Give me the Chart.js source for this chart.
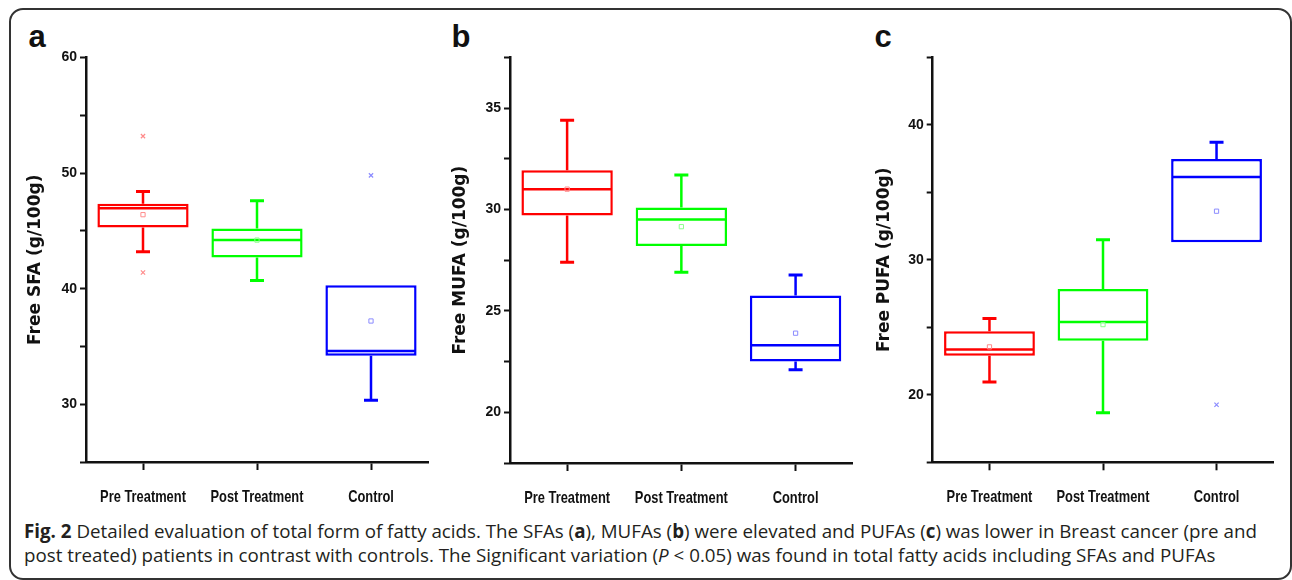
<!DOCTYPE html>
<html>
<head>
<meta charset="utf-8">
<script src="https://cdn.jsdelivr.net/npm/chart.js@4.4.1/dist/chart.umd.min.js"></script>
<style>
  html, body { margin: 0; padding: 0; background: #fff; }
  body { width: 1292px; height: 580px; position: relative; overflow: hidden; }
  .frame { position: absolute; left: 9px; top: 8px; width: 1283px; height: 572px; box-sizing: border-box;
           border: 2px solid #333; border-radius: 14px; }
  canvas { position: absolute; }
  .letter { position: absolute; font-family: "Liberation Sans", Arial, sans-serif; font-weight: bold;
            font-size: 31px; line-height: 31px; color: #111; }
  .caption { position: absolute; left: 24px; top: 519px; font-family: "Open Sans", sans-serif;
             font-size: 15.5px; line-height: 24px; color: #231f20; white-space: nowrap; }
  .caption span.line { display: inline-block; }
</style>
</head>
<body>
<div class="frame"></div>
<div class="letter" style="left:28.5px; top:21.4px;">a</div>
<div class="letter" style="left:451.5px; top:21.4px;">b</div>
<div class="letter" style="left:874.5px; top:21.4px;">c</div>
<canvas id="chartA" width="425" height="475" style="left:10px; top:40px;"></canvas>
<canvas id="chartB" width="420" height="475" style="left:440px; top:40px;"></canvas>
<canvas id="chartC" width="420" height="475" style="left:865px; top:40px;"></canvas>
<div class="caption" id="caption">
  <span class="line" id="cap1"><b>Fig. 2</b> Detailed evaluation of total form of fatty acids. The SFAs (<b>a</b>), MUFAs (<b>b</b>) were elevated and PUFAs (<b>c</b>) was lower in Breast cancer (pre and</span><br>
  <span class="line" id="cap2">post treated) patients in contrast with controls. The Significant variation (<i>P</i> &lt; 0.05) was found in total fatty acids including SFAs and PUFAs</span>
</div>
<script>
// ---------- DATA ----------
const categories = ['Pre Treatment', 'Post Treatment', 'Control'];
const boxColors  = ['#ff0000', '#00ff00', '#0000ff'];
const markColors = ['#ff8c8c', '#8cff8c', '#8c8cff'];

// Panel a: Free SFA
const sfaTitle    = 'Free SFA (g/100g)';
const sfaMin      = [43.2, 40.7, 30.35];
const sfaQ1       = [45.3, 42.7, 34.2];
const sfaMedian   = [46.95, 44.2, 34.6];
const sfaQ3       = [47.35, 45.2, 40.3];
const sfaMax      = [48.4, 47.6, 40.3];
const sfaMean     = [46.4, 44.2, 37.2];
const sfaOutliers = [[53.2, 41.4], [], [49.8]];
const sfaTickLabels = [30, 40, 50, 60];

// Panel b: Free MUFA
const mufaTitle    = 'Free MUFA (g/100g)';
const mufaMin      = [27.4, 26.9, 22.1];
const mufaQ1       = [29.7, 28.2, 22.5];
const mufaMedian   = [31.0, 29.5, 23.3];
const mufaQ3       = [31.93, 30.1, 25.76];
const mufaMax      = [34.4, 31.7, 26.77];
const mufaMean     = [31.0, 29.15, 23.9];
const mufaOutliers = [[], [], []];
const mufaTickLabels = [20, 25, 30, 35];

// Panel c: Free PUFA
const pufaTitle    = 'Free PUFA (g/100g)';
const pufaMin      = [20.94, 18.67, 31.3];
const pufaQ1       = [22.9, 24.0, 31.3];
const pufaMedian   = [23.36, 25.4, 36.13];
const pufaQ3       = [24.7, 27.83, 37.46];
const pufaMax      = [25.65, 31.48, 38.7];
const pufaMean     = [23.55, 25.2, 33.6];
const pufaOutliers = [[], [], [19.26]];
const pufaTickLabels = [20, 30, 40];

// ---------- narrow (condensed) category labels drawn at the x-scale tick positions ----------
const narrowXLabels = {
  id: 'narrowXLabels',
  afterDraw(chart) {
    const sx = chart.scales.x, ctx = chart.ctx;
    ctx.save();
    ctx.fillStyle = '#111';
    ctx.font = 'bold 16.5px "Liberation Sans", Arial, sans-serif';
    ctx.textAlign = 'center';
    ctx.textBaseline = 'middle';
    chart.data.labels.forEach((lab, i) => {
      const x = sx.getPixelForTick(i);
      ctx.save();
      ctx.translate(x, sx.top + 35);
      ctx.scale(0.78, 1);
      ctx.fillText(lab, 0, 0);
      ctx.restore();
    });
    ctx.restore();
  }
};

// ---------- CHART BUILDER ----------
function makeBoxChart(id, d, layout) {
  const boxData = categories.map((c, i) => [d.q1[i], d.q3[i]]);
  const upperWhisker = categories.map((c, i) => [d.q3[i], d.max[i]]);
  const lowerWhisker = categories.map((c, i) => [d.min[i], d.q1[i]]);
  const outlierPts = [];
  const outlierCols = [];
  d.outliers.forEach((arr, i) => arr.forEach(v => { outlierPts.push({ x: categories[i], y: v }); outlierCols.push(markColors[i]); }));

  const whiskerDs = data => ({ type: 'bar', data, grouped: false, order: 3, barThickness: 2.5,
    backgroundColor: boxColors, borderWidth: 0, inflateAmount: 0 });
  const pointDs = (data, style, radius, bw, colors, order) => ({
    type: 'line', data, showLine: false, order,
    pointStyle: style, pointRadius: radius, pointHoverRadius: radius,
    pointBorderWidth: bw, pointHoverBorderWidth: bw,
    pointBorderColor: colors, pointBackgroundColor: 'rgba(0,0,0,0)',
    borderColor: colors
  });
  // whisker caps only where a whisker actually extends beyond the box
  const capRadiusMax = c => (d.max[c.dataIndex] > d.q3[c.dataIndex] ? 7 : 0);
  const capRadiusMin = c => (d.min[c.dataIndex] < d.q1[c.dataIndex] ? 7 : 0);

  new Chart(document.getElementById(id), {
    type: 'bar',
    data: {
      labels: categories,
      datasets: [
        whiskerDs(upperWhisker),
        whiskerDs(lowerWhisker),
        { type: 'bar', data: boxData, grouped: false, order: 2, barPercentage: 0.8, categoryPercentage: 1.0,
          backgroundColor: '#ffffff', borderColor: boxColors, borderWidth: 2.5, borderSkipped: false, inflateAmount: 0 },
        pointDs(d.median, 'line', 44.5, 2.5, boxColors, 1),
        pointDs(d.max, 'line', capRadiusMax, 3, boxColors, 1),
        pointDs(d.min, 'line', capRadiusMin, 3, boxColors, 1),
        pointDs(d.mean, 'rect', 3, 1, markColors, 0),
        pointDs(outlierPts, 'crossRot', 3, 1.2, outlierCols, 0)
      ]
    },
    plugins: [narrowXLabels],
    options: {
      responsive: false,
      animation: false,
      events: [],
      layout: { padding: layout.padding, autoPadding: false },
      plugins: { legend: { display: false }, tooltip: { enabled: false } },
      scales: {
        x: {
          type: 'category',
          offset: true,
          grid: { display: true, offset: false, drawOnChartArea: false, drawTicks: true,
                  tickLength: 8, tickWidth: 2, tickColor: '#111' },
          border: { display: true, color: '#111', width: 2.5 },
          ticks: { display: false },
          afterFit: s => { s.height = layout.xHeight; }
        },
        y: {
          min: layout.min, max: layout.max,
          grid: { display: true, drawOnChartArea: false, drawTicks: true,
                  tickLength: 6, tickWidth: 2, tickColor: '#111' },
          border: { display: true, color: '#111', width: 2.5 },
          ticks: { stepSize: layout.step, color: '#111', padding: 3, autoSkip: false,
                   font: { family: '"Liberation Sans", Arial, sans-serif', weight: 'bold', size: 14 },
                   callback: v => d.tickLabels.includes(v) ? String(v) : '' },
          title: { display: true, text: d.title, color: '#111', padding: { top: 0, bottom: 0 },
                   font: { family: '"DejaVu Sans", sans-serif', weight: 'bold', size: 17, lineHeight: 1.2 } },
          afterFit: s => { s.width = layout.yWidth; }
        }
      }
    }
  });
}

makeBoxChart('chartA',
  { title: sfaTitle, min: sfaMin, q1: sfaQ1, median: sfaMedian, q3: sfaQ3, max: sfaMax, mean: sfaMean, outliers: sfaOutliers, tickLabels: sfaTickLabels },
  { padding: { left: 15, right: 7, top: 17.5, bottom: 0 }, yWidth: 61, xHeight: 53, min: 25, max: 60, step: 5 });

makeBoxChart('chartB',
  { title: mufaTitle, min: mufaMin, q1: mufaQ1, median: mufaMedian, q3: mufaQ3, max: mufaMax, mean: mufaMean, outliers: mufaOutliers, tickLabels: mufaTickLabels },
  { padding: { left: 10, right: 7.3, top: 17.3, bottom: 0 }, yWidth: 60, xHeight: 52, min: 17.5, max: 37.5, step: 2.5 });

makeBoxChart('chartC',
  { title: pufaTitle, min: pufaMin, q1: pufaQ1, median: pufaMedian, q3: pufaQ3, max: pufaMax, mean: pufaMean, outliers: pufaOutliers, tickLabels: pufaTickLabels },
  { padding: { left: 9, right: 11.7, top: 17.3, bottom: 0 }, yWidth: 58.7, xHeight: 52.7, min: 15, max: 45, step: 5 });

// fit the caption's first line to the reference width by font size
(function fitCaption() {
  const target1 = 1234;
  const cap = document.getElementById('caption');
  const l1 = document.getElementById('cap1');
  const w = l1.getBoundingClientRect().width;
  cap.style.fontSize = (15.5 * target1 / w) + 'px';
})();
</script>
</body>
</html>
